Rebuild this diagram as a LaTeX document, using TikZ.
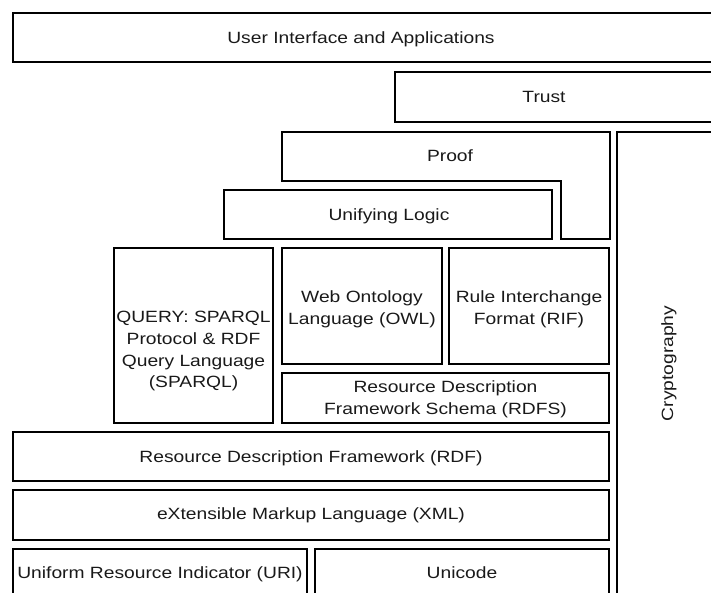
\documentclass[tikz,border=0pt]{standalone}
\usepackage{fontspec}
\setmainfont{Liberation Sans}[FakeStretch=1.18]
\begin{document}
\begin{tikzpicture}[x=1pt,y=-1pt,
	layer/.style={line width=2.8pt, line join=miter},
	caption/.style={anchor=base, align=center, inner sep=0pt, text=black!90, font=\fontsize{16.3}{21.7}\selectfont}]
	\useasboundingbox (0,0) rectangle (711,593);
	\clip (0,0) rectangle (711,593);

	% top layers
	\draw[layer] (13,13) rectangle (730,62);
	\node[caption] (ui) at (361,43.5) {User Interface and Applications};
	\draw[layer] (395,72) rectangle (730,122);
	\node[caption] (trust) at (544,103) {Trust};
	\draw[layer] (282,132) -- (610,132) -- (610,239) -- (561,239) -- (561,181) -- (282,181) -- cycle;
	\node[caption] (proof) at (450,162) {Proof};
	\draw[layer] (224,190) rectangle (552,239);
	\node[caption] (logic) at (389,221) {Unifying Logic};

	% side column
	\draw[layer] (617,132) rectangle (730,620);
	\node[caption, rotate=90] (crypto) at (673,363.5) {Cryptography};

	% middle layers (base = last line)
	\draw[layer] (114,248) rectangle (273,423);
	\node[caption] (sparql) at (193.5,387.7) {QUERY: SPARQL\\Protocol \& RDF\\Query Language\\(SPARQL)};
	\draw[layer] (282,248) rectangle (442,364);
	\node[caption] (owl) at (362,324) {Web Ontology\\Language (OWL)};
	\draw[layer] (449,248) rectangle (609,364);
	\node[caption] (rif) at (529,324) {Rule Interchange\\Format (RIF)};
	\draw[layer] (282,373) rectangle (609,423);
	\node[caption] (rdfs) at (445.5,414) {Resource Description\\Framework Schema (RDFS)};

	% bottom layers
	\draw[layer] (13,432) rectangle (609,481);
	\node[caption] (rdf) at (311,462) {Resource Description Framework (RDF)};
	\draw[layer] (13,490) rectangle (609,540);
	\node[caption] (xml) at (311,519.5) {eXtensible Markup Language (XML)};
	\draw[layer] (13,549) rectangle (307,620);
	\node[caption] (uri) at (160,578) {Uniform Resource Indicator (URI)};
	\draw[layer] (315,549) rectangle (609,620);
	\node[caption] (unicode) at (462,578) {Unicode};
\end{tikzpicture}
\end{document}
